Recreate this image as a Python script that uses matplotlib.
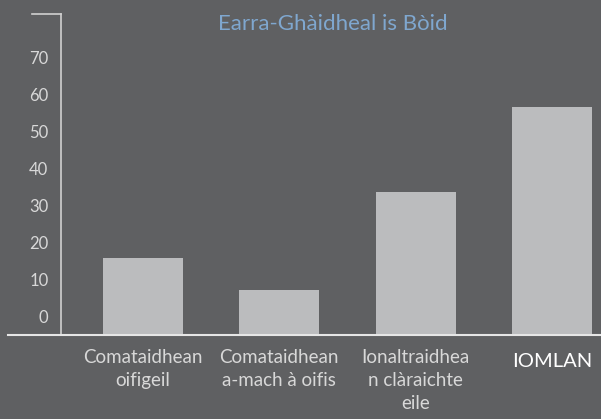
import matplotlib.pyplot as plt
from matplotlib.lines import Line2D
import numpy as np

# data
categories = ['Comataidhean\noifigeil', 'Comataidhean\na-mach à oifis',
              'Ionaltraidhea\nn clàraichte\neile', 'IOMLAN']
values = [15.9, 7.2, 33.7, 56.7]
yticks = [0, 10, 20, 30, 40, 50, 60, 70]
title = 'Earra-Ghàidheal is Bòid'

bg = '#5f6062'
bar_color = '#bbbcbe'
text_color = '#d8d8d8'
plt.rcParams['font.family'] = ['Lato', 'DejaVu Sans']

W, H = 601, 419
fig = plt.figure(figsize=(W / 100, H / 100), dpi=100)
fig.patch.set_facecolor(bg)
ax = fig.add_axes([61 / W, 1 - 335 / H, 540 / W, (335 - 14) / H])
ax.set_facecolor(bg)

ymin, ymax = -4.9, 81.8
x = np.arange(len(categories))
ax.bar(x, np.array(values) - ymin, bottom=ymin, width=0.587, color=bar_color)
ax.set_xlim(-0.60, 3.36)
ax.set_ylim(ymin, ymax)

ax.set_yticks(yticks)
ax.set_yticklabels([str(t) for t in yticks], color=text_color, fontsize=12)
ax.tick_params(axis='y', length=0, pad=9)
ax.set_xticks([])
for s in ['top', 'right', 'bottom']:
    ax.spines[s].set_visible(False)
ax.spines['left'].set_color('#d0d0d0')
ax.spines['left'].set_linewidth(1.2)

# x labels
for i, lab in enumerate(categories):
    if lab == 'IOMLAN':
        ax.text(i, -0.055, lab, transform=ax.get_xaxis_transform(), ha='center',
                va='top', color='white', fontsize=14.5)
    else:
        ax.text(i, -0.045, lab, transform=ax.get_xaxis_transform(), ha='center',
                va='top', color=text_color, fontsize=13.5, linespacing=1.4)

# baseline and top tick
fig.add_artist(Line2D([8 / W, 1], [1 - 335 / H] * 2, color='#e6e6e6', lw=1.5))
fig.add_artist(Line2D([32 / W, 61 / W], [1 - 14 / H] * 2, color='#d0d0d0', lw=1.2))

fig.text(333 / W, 1 - 24 / H, title, ha='center', va='center',
         color='#7fa7cf', fontsize=16)

fig.savefig('out.png', dpi=100, facecolor=bg)
